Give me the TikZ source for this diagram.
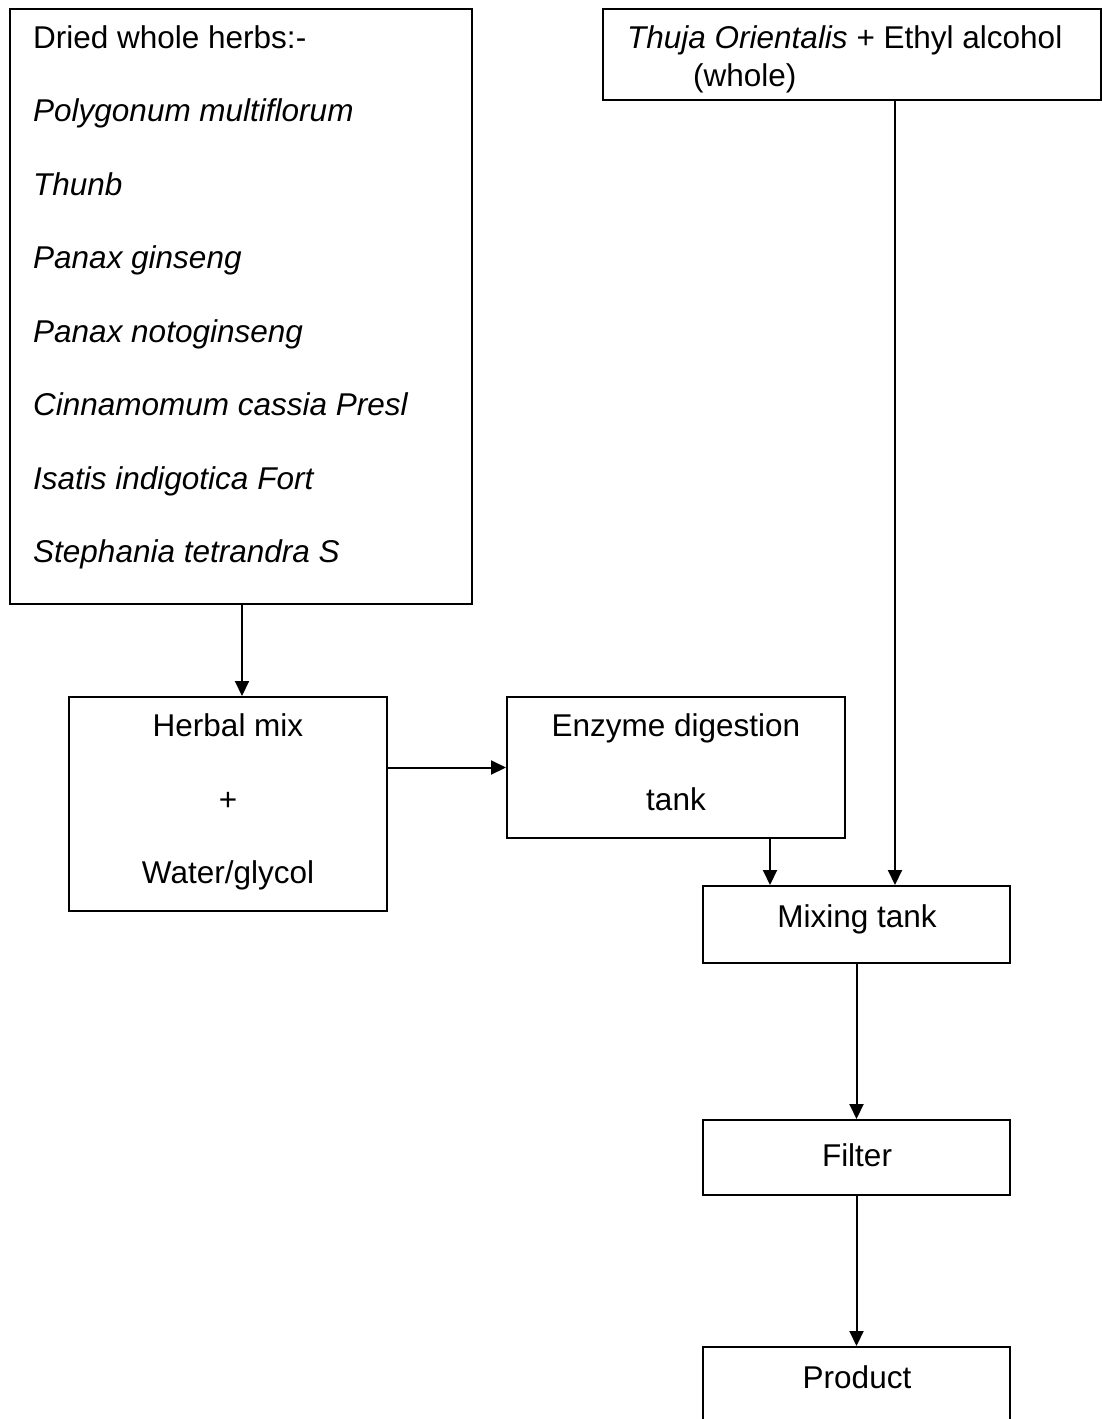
\documentclass[tikz,border=0pt]{standalone}
\usepackage{fontspec}
\setmainfont{Liberation Sans}
\usetikzlibrary{arrows.meta}
\begin{document}
\begin{tikzpicture}[x=1pt,y=-1pt,
  box/.style={draw, line width=2pt, rectangle, inner sep=0pt},
  lbl/.style={anchor=base, inner sep=0pt, font=\fontsize{31.5}{36}\selectfont},
  lbll/.style={lbl, anchor=base west},
  flow/.style={line width=2pt, -{Triangle[length=15pt,width=14pt]}}]
\useasboundingbox (0,0) rectangle (1103,1419);
\fill[white] (0,0) rectangle (1103,1419);
% boxes
\node[box, minimum width=462pt, minimum height=595pt] (herbs) at (241,306.5) {};
\node[box, minimum width=498pt, minimum height=91pt] (thuja) at (852,54.5) {};
\node[box, minimum width=318pt, minimum height=214pt] (mix) at (228,804) {};
\node[box, minimum width=338pt, minimum height=141pt] (enz) at (676,767.5) {};
\node[box, minimum width=307pt, minimum height=77pt] (mixing) at (856.5,924.5) {};
\node[box, minimum width=307pt, minimum height=75pt] (filter) at (856.5,1157.5) {};
\node[box, minimum width=307pt, minimum height=98pt] (product) at (856.5,1396) {};
% texts
\node[lbll] (h0) at (33,48) {Dried whole herbs:-};
\node[lbll] (h1) at (33,121) {\itshape Polygonum multiflorum};
\node[lbll] (h2) at (33,195) {\itshape Thunb};
\node[lbll] (h3) at (33,268) {\itshape Panax ginseng};
\node[lbll] (h4) at (33,342) {\itshape Panax notoginseng};
\node[lbll] (h5) at (33,415) {\itshape Cinnamomum cassia Presl};
\node[lbll] (h6) at (33,489) {\itshape Isatis indigotica Fort};
\node[lbll] (h7) at (33,562) {\itshape Stephania tetrandra S};
\node[lbll] (t0) at (627,48) {\textit{Thuja Orientalis} + Ethyl alcohol};
\node[lbll] (t1) at (693,86) {(whole)};
\node[lbl] (m0) at (228,736) {Herbal mix};
\node[lbl] (m1) at (228,810) {+};
\node[lbl] (m2) at (228,883) {Water/glycol};
\node[lbl] (e0) at (676,736) {Enzyme digestion};
\node[lbl] (e1) at (676,810) {tank};
\node[lbl] (x0) at (857,927) {Mixing tank};
\node[lbl] (f0) at (857,1166) {Filter};
\node[lbl] (p0) at (857,1388) {Product};
% connectors
\coordinate (c1) at (242,0);
\coordinate (c2) at (770,0);
\coordinate (c3) at (895,0);
\draw[flow] (herbs.south -| c1) -- (mix.north -| c1);
\draw[flow] (mix.east |- enz.west) -- (enz.west);
\draw[flow] (enz.south -| c2) -- (mixing.north -| c2);
\draw[flow] (thuja.south -| c3) -- (mixing.north -| c3);
\draw[flow] (mixing.south) -- (filter.north);
\draw[flow] (filter.south) -- (product.north);
\end{tikzpicture}
\end{document}
